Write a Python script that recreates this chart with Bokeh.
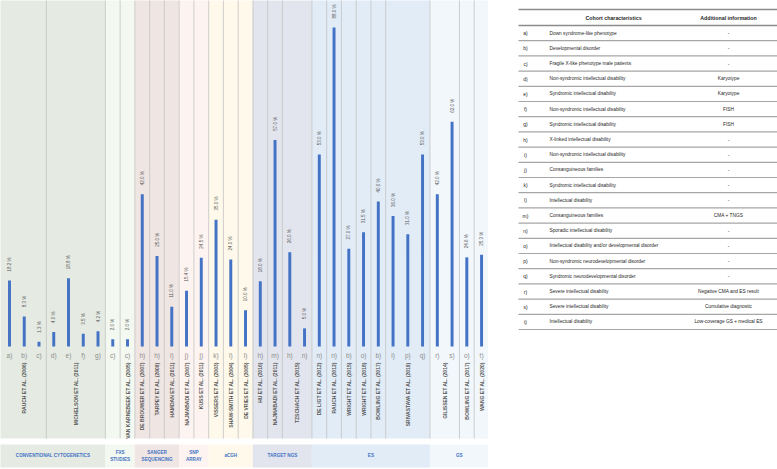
import math
from bokeh.plotting import figure
from bokeh.models import Range1d
from bokeh.layouts import row
from bokeh.embed import file_html
from bokeh.resources import INLINE
from bokeh.core.properties import value

# ---------------- data ----------------
techs = ["CONVENTIONAL CYTOGENETICS", "FXS\nSTUDIES", "SANGER\nSEQUENCING", "SNP\nARRAY",
         "aCGH", "TARGET NGS", "ES", "GS"]
tech_colors = ["#e5ebe3", "#f3f8f0", "#efe5e3", "#fdf3f0", "#fef9ea", "#e3e5ee", "#e1ecf7", "#f2f7fc"]

studies = ["RAUCH ET AL. (2006)", "MICHELSON ET AL. (2011)", "", "VAN KARNEBEEK ET AL. (2005)",
           "DE BROUWER ET AL. (2007)", "TARPEY ET AL. (2009)", "HAMDAN ET AL. (2011)",
           "NAJMABADI ET AL. (2007)", "KUSS ET AL. (2011)",
           "VISSERS ET AL. (2003)", "SHAW-SMITH ET AL. (2004)", "DE VRIES ET AL. (2005)",
           "HU ET AL. (2016)", "NAJMABADI ET AL. (2011)", "TZSCHACH ET AL. (2015)",
           "DE LIGT ET AL. (2012)", "RAUCH ET AL. (2012)", "WRIGHT ET AL. (2015)",
           "WRIGHT ET AL. (2018)", "BOWLING ET AL. (2017)", "SRIVASTAVA ET AL. (2019)",
           "GILISSEN ET AL. (2014)", "BOWLING ET AL. (2017)", "WANG ET AL. (2020)"]
study_tech = [0, 0, 1, 1, 2, 2, 2, 3, 3, 4, 4, 4, 5, 5, 5, 6, 6, 6, 6, 6, 6, 7, 7, 7]

cohorts = ["a)", "b)", "c)", "d)", "e)", "f)", "g)", "c)", "c)", "h)", "h)", "i)", "j)", "j)",
           "k)", "l)", "l)", "h)", "m)", "h)", "n)", "n)", "n)", "b)", "o)", "b)", "l)", "p)",
           "q)", "r)", "s)", "o)", "t)"]
yields = [18.2, 8.3, 1.3, 4.0, 18.8, 3.5, 4.2, 2.0, 2.0, 42.0, 25.0, 11.0, 15.4, 24.5, 35.0,
          24.0, 10.0, 18.0, 57.0, 26.0, 5.0, 53.0, 88.0, 27.0, 31.5, 40.0, 36.0, 31.0, 53.0,
          42.0, 62.0, 24.6, 25.3]
bar_study = [0, 0, 0, 1, 1, 1, 1, 2, 3, 4, 5, 6, 7, 8, 9, 10, 11, 12, 13, 14, 14, 15, 16, 17,
             18, 19, 20, 20, 20, 21, 21, 22, 23]

table_letters = ["a)", "b)", "c)", "d)", "e)", "f)", "g)", "h)", "i)", "j)", "k)", "l)", "m)",
                 "n)", "o)", "p)", "q)", "r)", "s)", "t)"]
table_chars = ["Down syndrome-like phenotype", "Developmental disorder",
               "Fragile X-like phenotype male patients", "Non-syndromic intellectual disability",
               "Syndromic intellectual disability", "Non-syndromic intellectual disability",
               "Syndromic intellectual disability", "X-linked intellectual disability",
               "Non-syndromic intellectual disability", "Consanguineous families",
               "Syndromic intellectual disability", "Intellectual disability",
               "Consanguineous families", "Sporadic intellectual disability",
               "Intellectual disability and/or developmental disorder",
               "Non-syndromic neurodevelopmental disorder", "Syndromic neurodevelopmental disorder",
               "Severe intellectual disability", "Severe intellectual disability",
               "Intellectual disability"]
table_info = ["-", "-", "-", "Karyotype", "Karyotype", "FISH", "FISH", "-", "-", "-", "-", "-",
              "CMA + TNGS", "-", "-", "-", "-", "Negative CMA and ES result",
              "Cumulative diagnostic", "Low-coverage GS + medical ES"]
table_header = ["Cohort characteristics", "Additional information"]

FONT = "Liberation Sans"
BLUE = "#4472c4"

# ---------------- chart ----------------
n = len(yields)
idx = list(range(n))
XMIN, XMAX = -0.61, 32.47
p = figure(width=488, height=469, x_range=Range1d(XMIN, XMAX), y_range=Range1d(-33.93, 95.45),
           output_backend="svg", toolbar_location=None, min_border=0,
           outline_line_color=None, x_axis_location=None, y_axis_location=None)
p.grid.visible = False
p.background_fill_color = "white"
p.border_fill_color = "white"

# technology extents
t_left, t_right = [], []
for t in range(len(techs)):
    bars = [i for i in idx if study_tech[bar_study[i]] == t]
    t_left.append(min(bars) - 0.5 if t > 0 else XMIN - 0.2)
    t_right.append(max(bars) + 0.5)
p.quad(left=t_left, right=t_right, bottom=-25.4, top=100, fill_color=tech_colors, line_color=None)
p.quad(left=t_left, right=t_right, bottom=-33.4, top=-27.0, fill_color=tech_colors, line_color=None)

# separators between studies
seps = [i - 0.5 for i in idx[1:] if bar_study[i] != bar_study[i - 1]]
p.segment(x0=seps, y0=[-25.4] * len(seps), x1=seps, y1=[100] * len(seps),
          line_color="#c4c4c4", line_width=0.8)

# bars
p.vbar(x=idx, bottom=0, top=yields, width=0.2, fill_color=BLUE, line_color=None)

# value labels
p.text(x=idx, y=[v + 2.5 for v in yields], text=[f"{v:.1f} %" for v in yields],
       angle=math.pi / 2, text_align="left", text_baseline="middle",
       text_font=value(FONT), text_font_size="4.5px", text_color="#595959")

# cohort letters
p.text(x=idx, y=[-2.6] * n, text=cohorts, text_align="center", text_baseline="middle",
       text_font=value(FONT), text_font_size="6.5px", text_color="#8c8c8c")

# study names
s_x = []
for s in range(len(studies)):
    bars = [i for i in idx if bar_study[i] == s]
    s_x.append((min(bars) + max(bars)) / 2)
p.text(x=s_x, y=[-4.4] * len(studies), text=studies, angle=math.pi / 2,
       text_align="right", text_baseline="middle", text_font=value(FONT),
       text_font_size="5.0px", text_font_style="bold", text_color="#595959")

# technology labels
tx = [(max(l, XMIN) + min(r, XMAX)) / 2 for l, r in zip(t_left, t_right)]
p.text(x=tx, y=[-30.2] * len(techs), text=techs, text_align="center", text_baseline="middle",
       text_font=value(FONT), text_font_size="4.6px", text_font_style="bold",
       text_color=BLUE, text_line_height=1.3)

# ---------------- table ----------------
tb = figure(width=289, height=469, x_range=Range1d(488, 777), y_range=Range1d(469, 0),
            output_backend="svg", toolbar_location=None, min_border=0,
            outline_line_color=None, x_axis_location=None, y_axis_location=None)
tb.grid.visible = False
tb.background_fill_color = "white"
tb.border_fill_color = "white"

nr = len(table_letters)
HEAD_TOP, HEAD_BOT, ROW_H = 9, 25, 15.2
row_y = [HEAD_BOT + ROW_H * (k + 0.5) for k in range(nr)]
line_y = [HEAD_BOT + ROW_H * (k + 1) for k in range(nr)]
tb.segment(x0=[518, 518], y0=[HEAD_TOP, HEAD_BOT], x1=[777, 777], y1=[HEAD_TOP, HEAD_BOT],
           line_color="#8c8c8c", line_width=1.4)
tb.segment(x0=[518] * nr, y0=line_y, x1=[777] * nr, y1=line_y,
           line_color="#a6a6a6", line_width=1.2)

tb.text(x=[613, 728], y=[(HEAD_TOP + HEAD_BOT) / 2] * 2, text=table_header,
        text_align="center", text_baseline="middle", text_font=value(FONT),
        text_font_size="5.3px", text_font_style="bold", text_color="#262626")
tb.text(x=[525] * nr, y=row_y, text=table_letters, text_align="center", text_baseline="middle",
        text_font=value(FONT), text_font_size="5.0px", text_color="#262626")
tb.text(x=[549] * nr, y=row_y, text=table_chars, text_align="left", text_baseline="middle",
        text_font=value(FONT), text_font_size="4.8px", text_color="#262626")
tb.text(x=[728] * nr, y=row_y, text=table_info, text_align="center", text_baseline="middle",
        text_font=value(FONT), text_font_size="4.8px", text_color="#262626")

layout = row(p, tb)
open("out.html", "w").write(file_html(layout, INLINE))
